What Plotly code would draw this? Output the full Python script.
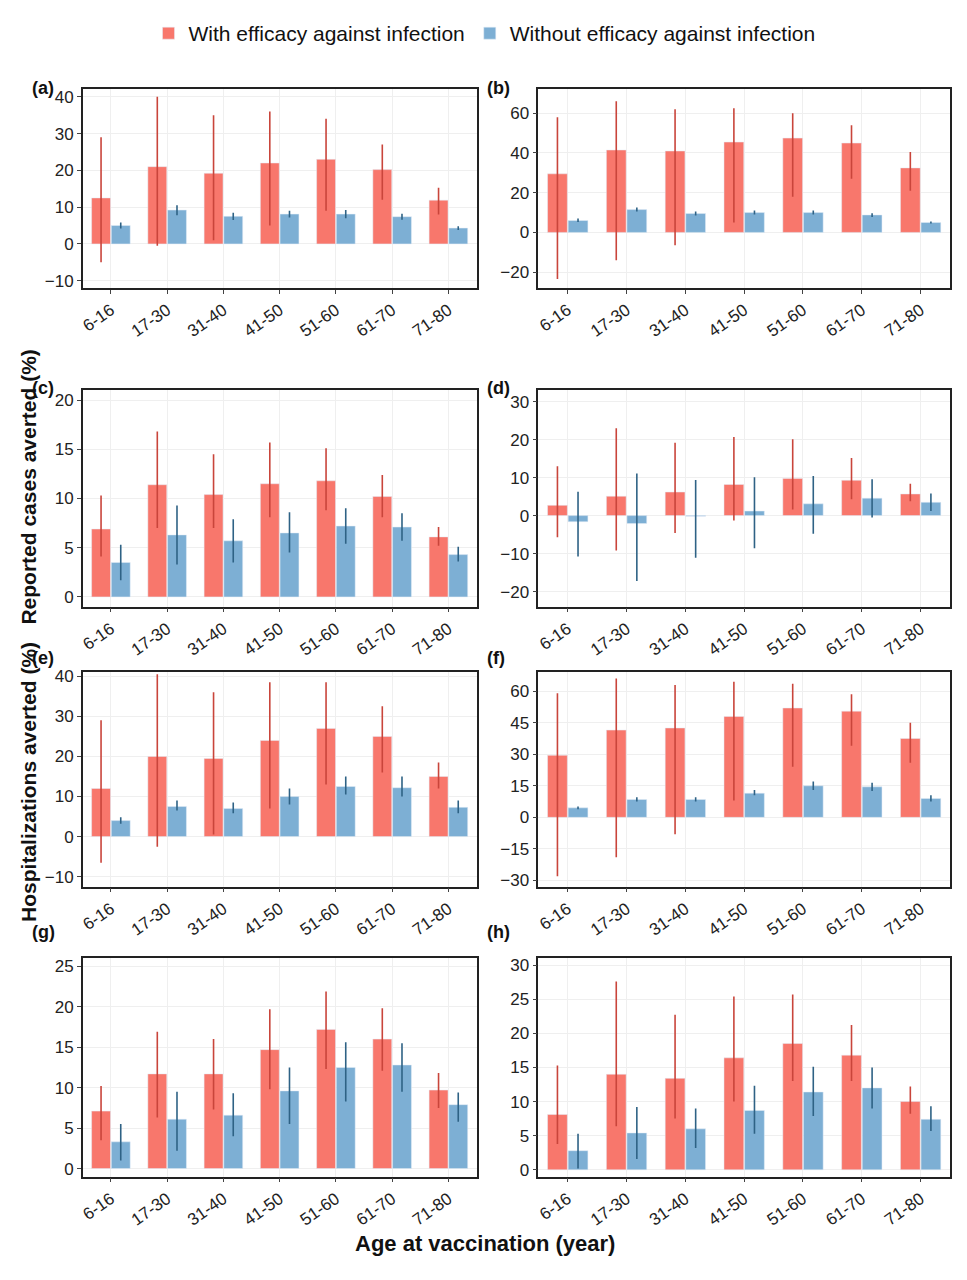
import plotly.graph_objects as go
from plotly.subplots import make_subplots

ages = ["6-16", "17-30", "31-40", "41-50", "51-60", "61-70", "71-80"]

# with efficacy against infection (mean, upper, lower) / without
a_red = [12.5, 21, 19.2, 22, 23, 20.2, 11.9]
a_red_hi = [29, 40, 35, 36, 34, 27, 15.3]
a_red_lo = [-5, -0.5, 1, 5, 9, 12, 8]
a_blue = [5, 9.2, 7.5, 8.1, 8.1, 7.4, 4.3]
a_blue_hi = [5.8, 10.5, 8.5, 9, 9.2, 8.2, 4.8]
a_blue_lo = [4.2, 7.8, 6.5, 7.2, 7, 6.6, 3.8]

b_red = [29.5, 41.5, 41, 45.5, 47.5, 45, 32.5]
b_red_hi = [58, 66, 62, 62.5, 60, 54, 40.5]
b_red_lo = [-23.5, -14, -6.5, 5, 18, 27, 21]
b_blue = [6, 11.5, 9.5, 10, 10, 8.8, 5]
b_blue_hi = [7, 12.5, 10.5, 11, 11, 9.7, 5.5]
b_blue_lo = [5.2, 10.5, 8.5, 9, 9, 7.8, 4.5]

c_red = [6.9, 11.4, 10.4, 11.5, 11.8, 10.2, 6.1]
c_red_hi = [10.3, 16.8, 14.5, 15.7, 15.1, 12.4, 7.1]
c_red_lo = [4.1, 7, 7, 8.1, 8.8, 8.1, 5.2]
c_blue = [3.5, 6.3, 5.7, 6.5, 7.2, 7.1, 4.3]
c_blue_hi = [5.3, 9.3, 7.9, 8.6, 9, 8.5, 5.1]
c_blue_lo = [1.7, 3.3, 3.5, 4.5, 5.4, 5.7, 3.6]

d_red = [2.7, 5.1, 6.2, 8.2, 9.8, 9.3, 5.7]
d_red_hi = [13, 23, 19.2, 20.7, 20.1, 15.2, 8.4]
d_red_lo = [-5.7, -9.2, -4.6, -1.3, 1.6, 4.3, 3.8]
d_blue = [-1.6, -2.1, -0.2, 1.2, 3.1, 4.6, 3.5]
d_blue_hi = [6.3, 11.1, 9.4, 10.1, 10.4, 9.6, 5.8]
d_blue_lo = [-10.8, -17.2, -11.1, -8.6, -4.8, -0.5, 1.2]

e_red = [12, 20, 19.5, 24, 27, 25, 15]
e_red_hi = [29, 40.5, 36, 38.5, 38.5, 32.5, 18.5]
e_red_lo = [-6.5, -2.5, 0.5, 7, 13, 16, 12]
e_blue = [4, 7.5, 7, 10, 12.5, 12.2, 7.3]
e_blue_hi = [4.8, 9, 8.5, 12, 15, 15, 9]
e_blue_lo = [3.2, 6.5, 5.8, 8, 10.5, 10, 5.8]

f_red = [29.5, 41.5, 42.5, 48, 52, 50.5, 37.5]
f_red_hi = [59, 66, 63, 64.5, 63.5, 58.5, 45]
f_red_lo = [-28, -19, -8, 8, 24, 34, 26]
f_blue = [4.5, 8.5, 8.5, 11.5, 15, 14.5, 9]
f_blue_hi = [5.2, 9.5, 9.5, 13, 17, 16.5, 10.5]
f_blue_lo = [3.8, 7.5, 7.5, 10.5, 13, 12.5, 7.5]

g_red = [7.1, 11.7, 11.7, 14.7, 17.2, 16, 9.7]
g_red_hi = [10.2, 16.9, 16, 19.7, 21.9, 19.8, 11.8]
g_red_lo = [3.5, 6.3, 7.3, 9.8, 12.3, 12.1, 7.5]
g_blue = [3.3, 6.1, 6.6, 9.6, 12.5, 12.8, 7.9]
g_blue_hi = [5.5, 9.5, 9.3, 12.5, 15.6, 15.5, 9.4]
g_blue_lo = [1, 2.2, 4, 5.5, 8.3, 9.5, 5.8]

h_red = [8.1, 14, 13.4, 16.4, 18.5, 16.8, 10]
h_red_hi = [15.3, 27.6, 22.7, 25.4, 25.7, 21.2, 12.2]
h_red_lo = [3.8, 6.4, 7.5, 10, 13, 13, 8.2]
h_blue = [2.8, 5.4, 6, 8.7, 11.4, 12, 7.4]
h_blue_hi = [5.3, 9.2, 9, 12.3, 15.1, 15, 9.3]
h_blue_lo = [0.2, 1.6, 3.2, 5.3, 7.9, 9, 5.7]

panels = [
    ("(a)", a_red, a_red_hi, a_red_lo, a_blue, a_blue_hi, a_blue_lo, [-12, 42], 10),
    ("(b)", b_red, b_red_hi, b_red_lo, b_blue, b_blue_hi, b_blue_lo, [-28, 72], 20),
    ("(c)", c_red, c_red_hi, c_red_lo, c_blue, c_blue_hi, c_blue_lo, [-1, 21], 5),
    ("(d)", d_red, d_red_hi, d_red_lo, d_blue, d_blue_hi, d_blue_lo, [-24, 33], 10),
    ("(e)", e_red, e_red_hi, e_red_lo, e_blue, e_blue_hi, e_blue_lo, [-12.5, 41], 10),
    ("(f)", f_red, f_red_hi, f_red_lo, f_blue, f_blue_hi, f_blue_lo, [-33, 69], 15),
    ("(g)", g_red, g_red_hi, g_red_lo, g_blue, g_blue_hi, g_blue_lo, [-1, 26], 5),
    ("(h)", h_red, h_red_hi, h_red_lo, h_blue, h_blue_hi, h_blue_lo, [-1, 31], 5),
]

# page adds an 8px body margin; keep the figure inside the window
W, H = 950, 1262
OFF = 8
col_px = [(80, 475), (537, 950)]
row_px = [(85, 285), (388, 606), (672, 888), (960, 1180)]

RED, RED_ERR = "#F8776C", "#C9453B"
BLUE, BLUE_ERR = "#7DAFD4", "#2E6285"

fig = make_subplots(rows=4, cols=2)

for i, (lab, r, rhi, rlo, b, bhi, blo, yr, dt) in enumerate(panels):
    row, col = i // 2 + 1, i % 2 + 1
    first = i == 0
    fig.add_trace(go.Bar(
        x=ages, y=r, name="With efficacy against infection", marker_color=RED,
        showlegend=first, legendgroup="r",
        error_y=dict(type="data", symmetric=False,
                     array=[h - v for h, v in zip(rhi, r)],
                     arrayminus=[v - l for v, l in zip(r, rlo)],
                     color=RED_ERR, thickness=1.6, width=0)), row=row, col=col)
    fig.add_trace(go.Bar(
        x=ages, y=b, name="Without efficacy against infection", marker_color=BLUE,
        showlegend=first, legendgroup="b",
        error_y=dict(type="data", symmetric=False,
                     array=[h - v for h, v in zip(bhi, b)],
                     arrayminus=[v - l for v, l in zip(b, blo)],
                     color=BLUE_ERR, thickness=1.6, width=0)), row=row, col=col)

    x0, x1 = [p - OFF for p in col_px[col - 1]]
    y0, y1 = [p - OFF for p in row_px[row - 1]]
    fig.update_xaxes(domain=[x0 / W, x1 / W], row=row, col=col, tickangle=-35,
                     showline=True, mirror=True, linecolor="#222", linewidth=1.5,
                     gridcolor="#efefef", ticks="outside", ticklen=4,
                     tickfont=dict(size=17, color="#222"))
    fig.update_yaxes(domain=[1 - y1 / H, 1 - y0 / H], row=row, col=col, range=yr, dtick=dt,
                     showline=True, mirror=True, linecolor="#222", linewidth=1.5,
                     gridcolor="#efefef", zeroline=False, ticks="outside", ticklen=4,
                     tickfont=dict(size=17, color="#222"))
    fig.add_annotation(text="<b>" + lab + "</b>", xref="paper", yref="paper",
                       x=(x0 - 53) / W, y=1 - (y0 - 14) / H, showarrow=False,
                       xanchor="left", font=dict(size=18, color="#111"))

fig.add_annotation(text="<b>Reported cases averted (%)</b>", xref="paper", yref="paper",
                   x=4 / W, y=1 - 337 / H, textangle=-90, showarrow=False, xanchor="left",
                   font=dict(size=21, color="#111"))
fig.add_annotation(text="<b>Hospitalizations averted (%)</b>", xref="paper", yref="paper",
                   x=4 / W, y=1 - 917 / H, textangle=-90, showarrow=False, xanchor="left",
                   font=dict(size=21, color="#111"))
fig.add_annotation(text="<b>Age at vaccination (year)</b>", xref="paper", yref="paper",
                   x=0.5, y=1 - 1254 / H, showarrow=False,
                   font=dict(size=22, color="#111"))

fig.update_layout(
    width=W, height=H, margin=dict(l=0, r=0, t=0, b=0),
    plot_bgcolor="white", paper_bgcolor="white",
    font=dict(family="Liberation Sans Narrow, Liberation Sans, Arial"),
    barmode="group", bargap=0.3, bargroupgap=0.04,
    legend=dict(orientation="h", x=0.5, xanchor="center", y=1, yanchor="top",
                font=dict(size=21, color="#111")),
)

fig.write_html("out.html")
